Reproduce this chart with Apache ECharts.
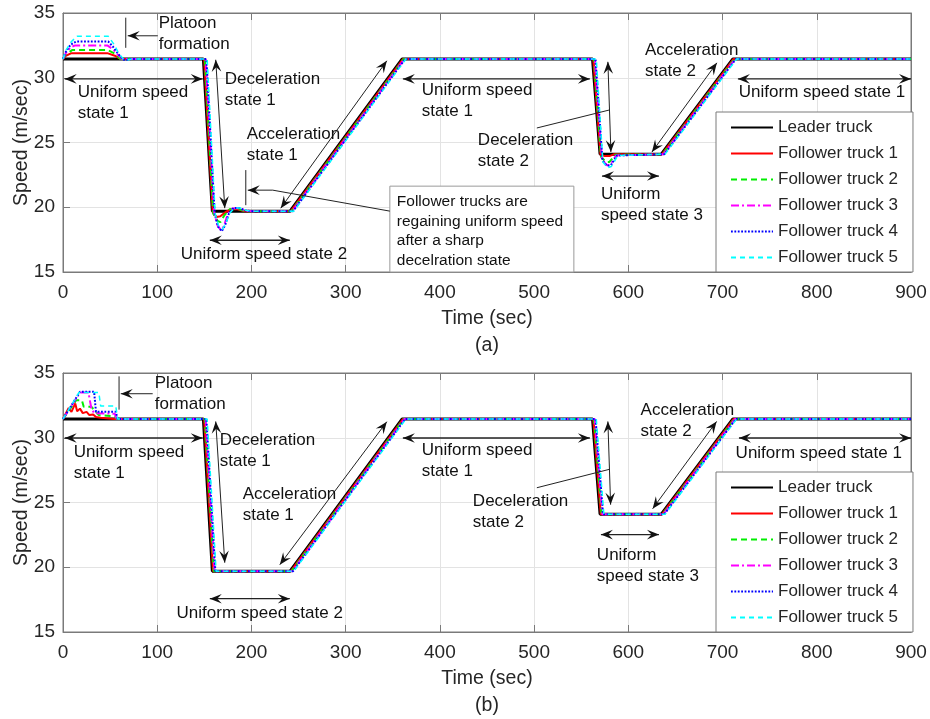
<!DOCTYPE html>
<html><head><meta charset="utf-8">
<script src="https://cdn.jsdelivr.net/npm/echarts@6/dist/echarts.min.js"></script>
<style>html,body{margin:0;padding:0;background:#fff}#c{width:930px;height:719px}</style>
</head><body><div id="c"></div>
<script>
// ---------------- data ----------------
const xTicks = [0, 100, 200, 300, 400, 500, 600, 700, 800, 900];
const yTicks = [15, 20, 25, 30, 35];
const seriesNames = ['Leader truck', 'Follower truck 1', 'Follower truck 2', 'Follower truck 3', 'Follower truck 4', 'Follower truck 5'];

// Panel (a)
const leaderA = [[0,31.45],[149,31.45],[158.5,19.7],[241,19.7],[360,31.45],[562,31.45],[570,24.1],[635,24.1],[711,31.45],[900,31.45]];
const f1A = [[0,31.45],[3,31.7],[9,31.9],[47,31.9],[55,31.7],[61,31.45],[149.8,31.45],[159,19.6],[163,19.25],[167,19.3],[172,19.6],[178,19.85],[185,19.85],[192,19.7],[241.8,19.7],[360.8,31.45],[562.8,31.45],[570.5,24.05],[575,23.95],[580,23.95],[585,24.1],[635.8,24.1],[711.8,31.45],[900,31.45]];
const f2A = [[0,31.45],[3,31.8],[10,32.15],[47,32.15],[54,31.9],[61,31.45],[150.6,31.45],[159.5,19.5],[164,18.95],[167,18.85],[171,19.35],[177,19.85],[185,19.9],[193,19.7],[242.6,19.7],[361.6,31.45],[563.6,31.45],[571,23.9],[576,23.5],[580,23.5],[586,24.05],[636.6,24.1],[712.6,31.45],[900,31.45]];
const f3A = [[0,31.45],[3,31.9],[8,32.35],[13,32.5],[47,32.5],[53,32.2],[58,31.8],[63,31.45],[151.4,31.45],[160.5,19.6],[164,18.6],[168,18.2],[171,18.6],[175,19.5],[180,19.9],[186,19.95],[193,19.75],[200,19.7],[243.4,19.7],[362.4,31.45],[564.4,31.45],[572,23.7],[577,23.25],[581,23.3],[587,24.0],[637.4,24.1],[713.4,31.45],[900,31.45]];
const f4A = [[0,31.45],[3,32.0],[8,32.55],[14,32.8],[48,32.8],[53,32.4],[58,31.9],[63,31.45],[66,31.35],[72,31.45],[152.2,31.45],[161,19.5],[164.5,18.5],[168.5,18.15],[172,18.6],[176,19.5],[181,19.95],[187,19.95],[194,19.75],[201,19.7],[244.2,19.7],[363.2,31.45],[565.2,31.45],[572.5,23.6],[577.5,23.2],[581.5,23.25],[588,24.0],[638.2,24.1],[714.2,31.45],[900,31.45]];
const f5A = [[0,31.45],[3,32.1],[9,32.8],[15,33.2],[48,33.2],[54,32.6],[59,31.9],[64,31.45],[67,31.35],[73,31.45],[153,31.45],[161.5,19.5],[165,18.6],[169,18.3],[172.5,18.7],[177,19.55],[182,19.95],[188,19.95],[195,19.75],[202,19.7],[245,19.7],[364,31.45],[566,31.45],[573,23.5],[578,23.05],[582,23.15],[589,24.0],[639,24.1],[715,31.45],[900,31.45]];

// Panel (b)
const leaderB = [[0,31.45],[149,31.45],[158.5,19.7],[241,19.7],[360,31.45],[562,31.45],[570,24.1],[635,24.1],[711,31.45],[900,31.45]];
const f1B = [[0,31.45],[6,32.3],[9,32.0],[13,32.65],[15,32.05],[18,32.25],[21,31.9],[25,32.0],[28,31.75],[32,31.8],[35,31.6],[40,31.55],[55,31.45],[149.8,31.45],[159.3,19.7],[241.8,19.7],[360.8,31.45],[562.8,31.45],[570.8,24.1],[635.8,24.1],[711.8,31.45],[900,31.45]];
const f2B = [[0,31.45],[14,32.9],[20,32.9],[22,32.4],[30,32.4],[38,31.75],[55,31.65],[57,31.45],[150.6,31.45],[160.1,19.7],[242.6,19.7],[361.6,31.45],[563.6,31.45],[571.6,24.1],[636.6,24.1],[712.6,31.45],[900,31.45]];
const f3B = [[0,31.45],[18,33.5],[27,33.5],[30,32.3],[33,31.9],[55,31.85],[57,31.45],[151.4,31.45],[160.9,19.7],[243.4,19.7],[362.4,31.45],[564.4,31.45],[572.4,24.1],[637.4,24.1],[713.4,31.45],[900,31.45]];
const f4B = [[0,31.45],[18,33.55],[33,33.55],[35,32.0],[56,32.0],[58,31.45],[152.2,31.45],[161.7,19.7],[244.2,19.7],[363.2,31.45],[565.2,31.45],[573.2,24.1],[638.2,24.1],[714.2,31.45],[900,31.45]];
const f5B = [[0,31.45],[17,33.5],[38,33.5],[40,32.45],[56,32.45],[58,31.45],[153,31.45],[162.5,19.7],[245,19.7],[364,31.45],[566,31.45],[574,24.1],[639,24.1],[715,31.45],[900,31.45]];

// ---------------- annotations (data coordinates: time, speed) ----------------
const textsA = [
  {t:101.6, v:33.41, s:'Platoon\nformation', a:'left'},
  {t:15.6, v:28.10, s:'Uniform speed\nstate 1', a:'left'},
  {t:171.7, v:29.06, s:'Deceleration\nstate 1', a:'left'},
  {t:195.0, v:24.81, s:'Acceleration\nstate 1', a:'left'},
  {t:213.3, v:16.37, s:'Uniform speed state 2', a:'center'},
  {t:354.3, v:18.15, s:'Follower trucks are\nregaining uniform speed\nafter a sharp\ndecelration state', a:'left', small:true},
  {t:380.8, v:28.20, s:'Uniform speed\nstate 1', a:'left'},
  {t:440.3, v:24.36, s:'Deceleration\nstate 2', a:'left'},
  {t:570.9, v:20.15, s:'Uniform\nspeed state 3', a:'left'},
  {t:617.6, v:31.31, s:'Acceleration\nstate 2', a:'left'},
  {t:805.5, v:28.85, s:'Uniform speed state 1', a:'center'}
];
const linesA = [
  {p:[[66.6,34.64],[66.6,32.31]], h:0},
  {p:[[100.6,33.24],[68.7,33.24]], h:1},
  {p:[[1.8,29.91],[148.3,29.91]], h:2},
  {p:[[162.1,31.39],[171.7,19.93]], h:2},
  {p:[[231.1,19.93],[343.7,31.31]], h:2},
  {p:[[155.8,17.45],[240.7,17.45]], h:2},
  {p:[[346.9,19.70],[222.6,21.32]], h:0},
  {p:[[222.6,21.32],[196.1,21.32]], h:1},
  {p:[[194.0,22.87],[194.0,20.16]], h:0},
  {p:[[360.7,29.91],[559.2,29.91]], h:2},
  {p:[[502.9,26.12],[580.4,27.52]], h:0},
  {p:[[578.3,31.23],[581.5,24.26]], h:2},
  {p:[[572.0,22.41],[632.5,22.41]], h:2},
  {p:[[625.0,24.26],[694.0,31.15]], h:2},
  {p:[[716.3,29.91],[900,29.91]], h:2}
];
const boxA = [[346.9,21.63],[542.2,15]];

const textsB = [
  {t:97.4, v:33.36, s:'Platoon\nformation', a:'left'},
  {t:11.4, v:28.07, s:'Uniform speed\nstate 1', a:'left'},
  {t:166.4, v:28.98, s:'Deceleration\nstate 1', a:'left'},
  {t:190.8, v:24.83, s:'Acceleration\nstate 1', a:'left'},
  {t:208.8, v:16.47, s:'Uniform speed state 2', a:'center'},
  {t:380.8, v:28.23, s:'Uniform speed\nstate 1', a:'left'},
  {t:435.0, v:24.29, s:'Deceleration\nstate 2', a:'left'},
  {t:566.6, v:20.14, s:'Uniform\nspeed state 3', a:'left'},
  {t:613.0, v:31.29, s:'Acceleration\nstate 2', a:'left'},
  {t:802.1, v:28.77, s:'Uniform speed state 1', a:'center'}
];
const linesB = [
  {p:[[59.5,34.74],[59.5,32.17]], h:0},
  {p:[[95.2,33.40],[61.3,33.40]], h:1},
  {p:[[1.8,29.98],[148.3,29.98]], h:2},
  {p:[[162.1,31.26],[171.7,20.35]], h:2},
  {p:[[230.1,20.20],[343.7,31.24]], h:2},
  {p:[[155.8,17.57],[240.7,17.57]], h:2},
  {p:[[360.7,29.98],[559.2,29.98]], h:2},
  {p:[[502.9,26.14],[580.4,27.57]], h:0},
  {p:[[578.3,31.26],[581.2,24.83]], h:2},
  {p:[[570.9,22.52],[632.5,22.52]], h:2},
  {p:[[625.8,24.52],[693.7,31.26]], h:2},
  {p:[[717.4,29.98],[900,29.98]], h:2}
];

// ---------------- styles ----------------
const FONT = 'Arial, "Liberation Sans", Helvetica, sans-serif';
const lineStyles = [
  {color:'#000000', width:3, type:'solid'},
  {color:'#ff0000', width:2, type:'solid'},
  {color:'#00ee00', width:2, type:[6,4]},
  {color:'#ff00ff', width:2, type:[8,3,2,3]},
  {color:'#0000ff', width:2, type:[1.8,1.6]},
  {color:'#00ffff', width:1.5, type:[5,4]}
];
const AX = '#7a7a7a', TXT = '#262626';

function xAx(g, top) {
  return {
    gridIndex:g, type:'value', min:xTicks[0], max:xTicks[xTicks.length-1], interval:xTicks[1]-xTicks[0],
    position: top ? 'top' : 'bottom',
    name: top ? '' : 'Time (sec)', nameLocation:'middle', nameGap:37, nameMoveOverlap:false,
    nameTextStyle:{fontFamily:FONT, fontSize:19.5, color:TXT},
    axisLine:{show:true, onZero:false, lineStyle:{color:AX, width:1}},
    axisTick:{show:true, inside:true, length:7, lineStyle:{color:AX}},
    axisLabel:{show:!top, margin:11, fontFamily:FONT, fontSize:19, color:TXT},
    splitLine:{show:!top, lineStyle:{color:'#e3e3e3', width:1}}
  };
}
function yAx(g, right) {
  return {
    gridIndex:g, type:'value', min:yTicks[0], max:yTicks[yTicks.length-1], interval:yTicks[1]-yTicks[0],
    position: right ? 'right' : 'left',
    name: right ? '' : 'Speed (m/sec)', nameLocation:'middle', nameGap:31, nameRotate:90, nameMoveOverlap:false,
    nameTextStyle:{fontFamily:FONT, fontSize:19.5, color:TXT},
    axisLine:{show:true, onZero:false, lineStyle:{color:AX, width:1}},
    axisTick:{show:true, inside:true, length:7, lineStyle:{color:AX}},
    axisLabel:{show:!right, margin:8, fontFamily:FONT, fontSize:19, color:TXT},
    splitLine:{show:!right, lineStyle:{color:'#e3e3e3', width:1}}
  };
}
const dataA = [leaderA, f1A, f2A, f3A, f4A, f5A];
const dataB = [leaderB, f1B, f2B, f3B, f4B, f5B];
const series = [];
[dataA, dataB].forEach((set, g) => {
  set.forEach((d, i) => {
    series.push({
      type:'line', name:seriesNames[i], xAxisIndex:g, yAxisIndex:g, data:d,
      showSymbol:false, symbol:'none', animation:false, smooth:false,
      lineStyle:lineStyles[i], itemStyle:{color:lineStyles[i].color}, z:2+i
    });
  });
});
function legend(top) {
  return {
    show:true, orient:'vertical', left:716, top:top, selectedMode:false,
    data:seriesNames, itemWidth:42, itemHeight:14, itemGap:9,
    itemStyle:{opacity:0, borderWidth:0},
    padding:[7,15,6,14], backgroundColor:'#ffffff', borderColor:AX, borderWidth:1, borderRadius:0,
    textStyle:{fontFamily:FONT, fontSize:17, color:TXT}, z:20
  };
}
const chart = echarts.init(document.getElementById('c'), null, {renderer:'canvas'});
chart.setOption({
  animation:false, backgroundColor:'#ffffff',
  grid:[
    {left:63, top:13, width:848, height:259, show:true, borderColor:AX, borderWidth:1, containLabel:false},
    {left:63, top:373, width:848, height:259, show:true, borderColor:AX, borderWidth:1, containLabel:false}
  ],
  xAxis:[xAx(0,false), xAx(1,false), xAx(0,true), xAx(1,true)],
  yAxis:[yAx(0,false), yAx(1,false), yAx(0,true), yAx(1,true)],
  legend:[legend(112), legend(472)],
  series:series
});

// ---------------- draw annotations ----------------
function px(g, t, v) { return chart.convertToPixel({xAxisIndex:g, yAxisIndex:g}, [t, v]); }
function arrowHead(p0, p1) {
  const dx = p1[0]-p0[0], dy = p1[1]-p0[1], L = Math.hypot(dx, dy) || 1;
  const ux = dx/L, uy = dy/L, nx = -uy, ny = ux, HL = 12, HW = 4.8;
  return {type:'polygon', z:30, silent:true, shape:{points:[
    [p1[0], p1[1]],
    [p1[0]-HL*ux+HW*nx, p1[1]-HL*uy+HW*ny],
    [p1[0]-HL*0.62*ux, p1[1]-HL*0.62*uy],
    [p1[0]-HL*ux-HW*nx, p1[1]-HL*uy-HW*ny]
  ]}, style:{fill:'#111', stroke:null}};
}
const gfx = [];
function addLines(g, list) {
  list.forEach(l => {
    const a = px(g, l.p[0][0], l.p[0][1]), b = px(g, l.p[1][0], l.p[1][1]);
    gfx.push({type:'line', z:29, silent:true, shape:{x1:a[0], y1:a[1], x2:b[0], y2:b[1]},
      style:{stroke:'#222', lineWidth: l.h === 2 && (Math.abs(a[1]-b[1]) < 1) ? 1.3 : 1}});
    if (l.h >= 1) gfx.push(arrowHead(a, b));
    if (l.h === 2) gfx.push(arrowHead(b, a));
  });
}
function addTexts(g, list) {
  list.forEach(o => {
    const p = px(g, o.t, o.v);
    gfx.push({type:'text', z:31, silent:true, x:p[0], y:p[1], style:{
      text:o.s, fill:'#111', font:(o.small ? '15.5px ' : '17px ') + FONT,
      fontSize:o.small ? 15.5 : 17, fontFamily:FONT,
      align:o.a, verticalAlign:'middle', lineHeight:o.small ? 19.4 : 21
    }});
  });
}
// annotation box (a)
(function(){
  const a = px(0, boxA[0][0], boxA[0][1]), b = px(0, boxA[1][0], boxA[1][1]);
  gfx.push({type:'rect', z:25, silent:true, shape:{x:a[0], y:a[1], width:b[0]-a[0], height:b[1]-a[1]},
    style:{fill:'#ffffff', stroke:'#9a9a9a', lineWidth:1}});
})();
addLines(0, linesA); addTexts(0, textsA);
addLines(1, linesB); addTexts(1, textsB);
// panel captions
const ca = px(0, 450, yTicks[0]), cb = px(1, 450, yTicks[0]);
gfx.push({type:'text', z:31, x:ca[0], y:ca[1]+74, style:{text:'(a)', font:'19.5px '+FONT, fill:TXT, align:'center', verticalAlign:'middle'}});
gfx.push({type:'text', z:31, x:cb[0], y:cb[1]+74, style:{text:'(b)', font:'19.5px '+FONT, fill:TXT, align:'center', verticalAlign:'middle'}});
chart.setOption({graphic:{elements:gfx}});
</script></body></html>
